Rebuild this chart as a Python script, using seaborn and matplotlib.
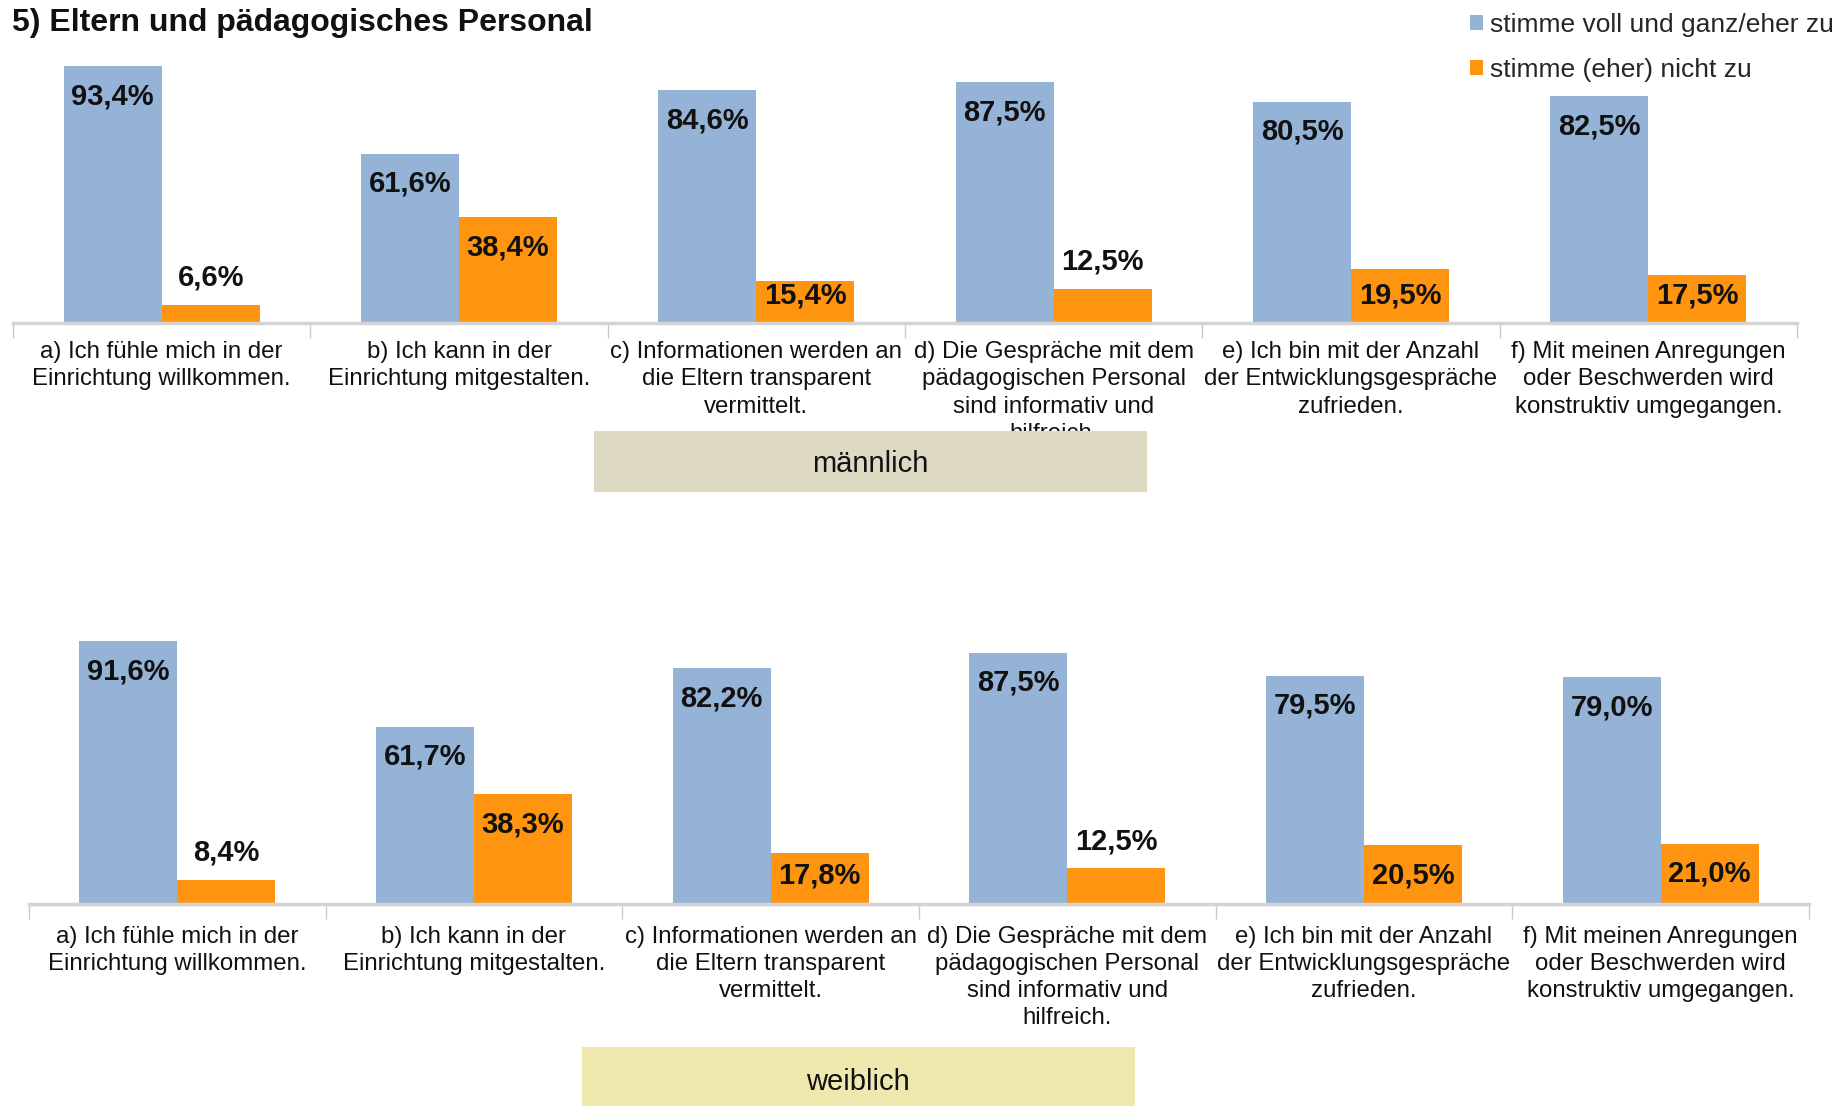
import numpy as np
import pandas as pd
import matplotlib.pyplot as plt
from matplotlib.patches import Rectangle
import seaborn as sns

# -------------------------------
# Data
# -------------------------------

questions = [
    "a) Ich fühle mich in der\nEinrichtung willkommen.",
    "b) Ich kann in der\nEinrichtung mitgestalten.",
    "c) Informationen werden an\ndie Eltern transparent\nvermittelt.",
    "d) Die Gespräche mit dem\npädagogischen Personal\nsind informativ und\nhilfreich.",
    "e) Ich bin mit der Anzahl\nder Entwicklungsgespräche\nzufrieden.",
    "f) Mit meinen Anregungen\noder Beschwerden wird\nkonstruktiv umgegangen.",
]
answers = ["stimme voll und ganz/eher zu", "stimme (eher) nicht zu"]

agree_m = [93.4, 61.6, 84.6, 87.5, 80.5, 82.5]
disagree_m = [6.6, 38.4, 15.4, 12.5, 19.5, 17.5]
agree_w = [91.6, 61.7, 82.2, 87.5, 79.5, 79.0]
disagree_w = [8.4, 38.3, 17.8, 12.5, 20.5, 21.0]

BLUE = "#95B3D7"
ORANGE = "#FF9410"
W, H = 1839, 1106


def long_df(agree, disagree):
    return pd.DataFrame({
        "frage": questions * 2,
        "antwort": [answers[0]] * 6 + [answers[1]] * 6,
        "wert": agree + disagree,
    })


sns.set_theme(style="white")
plt.rcParams["font.family"] = ["Liberation Sans", "DejaVu Sans"]

fig = plt.figure(figsize=(W / 100, H / 100), dpi=100)

ax_top = fig.add_axes([13 / W, (H - 323) / H, 1784 / W, 275 / H])
ax_bot = fig.add_axes([29 / W, (H - 904) / H, 1780 / W, 287 / H])


def draw_panel(ax, df, show_legend, pad):
    sns.barplot(
        data=df, x="frage", y="wert", hue="antwort",
        palette=[BLUE, ORANGE], width=0.66, saturation=1,
        linewidth=0, ax=ax, legend=show_legend,
    )
    ax.set_xlim(-0.5, 5.5)
    ax.set_ylim(0, 100)
    ax.set_yticks([])
    ax.set_xlabel("")
    ax.set_ylabel("")
    for s in ["top", "left", "right"]:
        ax.spines[s].set_visible(False)
    ax.spines["bottom"].set_color("#D4D4D4")
    ax.spines["bottom"].set_linewidth(2.5)

    ax.set_xticks(range(len(questions)))
    ax.set_xticklabels(questions, fontsize=17.3, linespacing=1.31)
    ax.set_xticks(np.arange(-0.5, len(questions), 1), minor=True)
    ax.tick_params(axis="x", which="major", length=0, pad=pad, colors="#111111")
    ax.tick_params(axis="x", which="minor", bottom=True, length=11,
                   width=1, color="#C8C8C8")

    # value labels
    ax_h = ax.get_position().height * H
    for container in ax.containers:
        for bar in container:
            v = bar.get_height()
            x = bar.get_x() + bar.get_width() / 2
            bar_px = v / 100 * ax_h
            if v < 14:
                off = 27
            else:
                off = -min(30, bar_px - 28)
            ax.annotate(
                f"{v:.1f}%".replace(".", ","), (x, v),
                xytext=(0, off * 0.72), textcoords="offset points",
                ha="center", va="center", fontsize=21, fontweight="bold",
                color="#111111",
            )


draw_panel(ax_top, long_df(agree_m, disagree_m), True, 13)
draw_panel(ax_bot, long_df(agree_w, disagree_w), False, 15.5)

sns.move_legend(
    ax_top, "upper right", bbox_to_anchor=(1834 / W, 1 - 13 / H),
    bbox_transform=fig.transFigure, frameon=False, title=None,
    fontsize=19, handlelength=0.5, handleheight=0.5, handletextpad=0.27,
    labelspacing=0.8, borderaxespad=0, borderpad=0,
)

fig.text(12 / W, 1 - 23.5 / H, "5) Eltern und pädagogisches Personal",
         fontsize=23, fontweight="bold", va="center", ha="left",
         color="#111111")

# gender boxes
for label, x0, y0, y1, col, dy in [("männlich", 594, 431, 492, "#DDD9C3", 3),
                                   ("weiblich", 582, 1047, 1112, "#EEE8AF", 2)]:
    fig.add_artist(Rectangle((x0 / W, 1 - y1 / H), 553 / W, (y1 - y0) / H,
                             transform=fig.transFigure, facecolor=col,
                             edgecolor="none", zorder=5))
    fig.text((x0 + 276) / W, 1 - ((y0 + y1) / 2 + dy) / H, label, fontsize=21,
             ha="center", va="center", zorder=6, color="#111111")

fig.savefig("out.png", dpi=100)
